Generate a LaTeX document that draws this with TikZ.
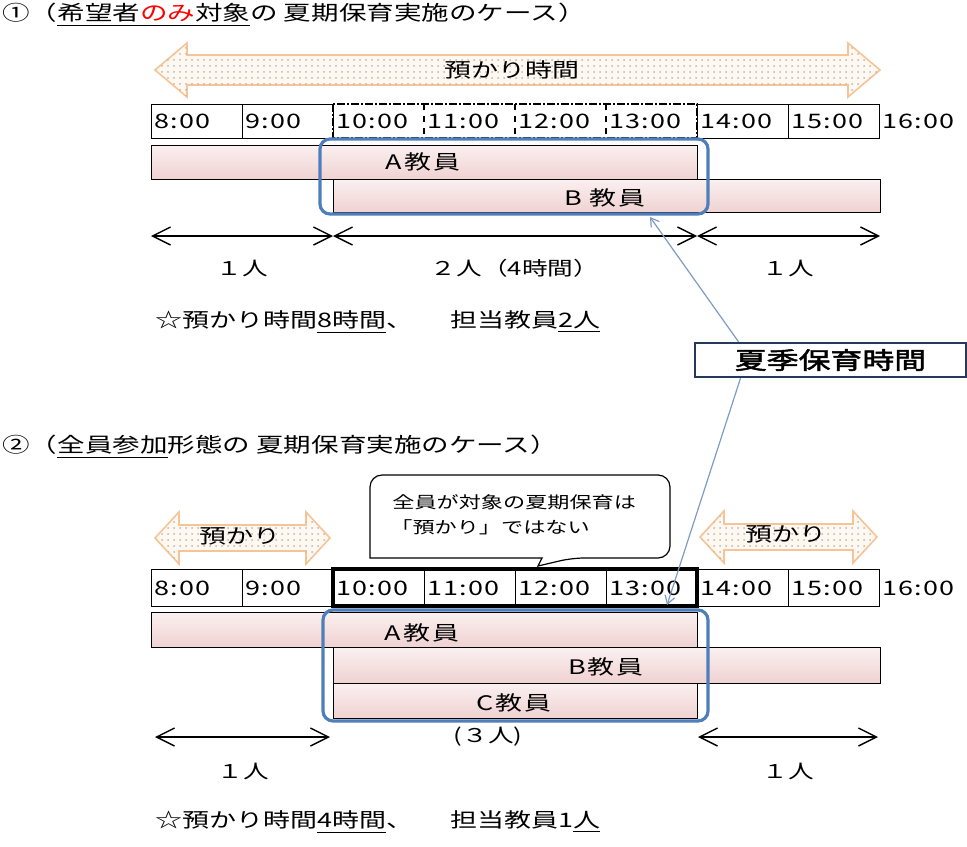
\documentclass[tikz,border=0pt]{standalone}
\usepackage{fontspec}
\setmainfont{Noto Sans CJK JP}[FakeStretch=1.35,AutoFakeBold=2]
\usetikzlibrary{arrows.meta,patterns}
\definecolor{azline}{RGB}{246,196,150}
\definecolor{azfill}{RGB}{254,248,240}
\definecolor{bartop}{RGB}{251,240,240}
\definecolor{barbot}{RGB}{240,210,210}
\definecolor{kblue}{RGB}{79,126,186}
\definecolor{pline}{RGB}{125,155,195}
\definecolor{kframe}{RGB}{38,56,92}
\tikzset{
    titel/.style={font=\fontsize{10.2pt}{12pt}\selectfont, anchor=west, inner sep=0pt},
    azuk/.style={draw=azline, line width=0.8pt, fill=azfill,
        postaction={pattern=dots, pattern color=gray!55}},
    aztext/.style={font=\fontsize{10pt}{12pt}\selectfont, inner sep=0pt},
    cell/.style={draw, line width=0.5pt},
    jikan/.style={font=\fontsize{10pt}{12pt}\selectfont\addfontfeature{LetterSpace=6}, anchor=west, inner sep=0pt},
    bar/.style={draw, line width=0.5pt, top color=bartop, bottom color=barbot},
    kyoin/.style={font=\fontsize{10pt}{12pt}\selectfont\addfontfeature{LetterSpace=10}, inner sep=0pt},
    waku/.style={draw=kblue, line width=1.6pt, rounded corners=5pt},
    dim/.style={line width=0.7pt, {Straight Barb[length=9pt,width=9pt]}-{Straight Barb[length=9pt,width=9pt]}},
    ninzu/.style={font=\fontsize{9.5pt}{12pt}\selectfont, inner sep=0pt},
    hoshi/.style={font=\fontsize{10pt}{12pt}\selectfont, anchor=west, inner sep=0pt},
    callt/.style={font=\fontsize{8.2pt}{10pt}\selectfont, anchor=west, inner sep=0pt},
    kakibox/.style={draw=kframe, line width=1.2pt, fill=white, minimum width=135.5pt, minimum height=17pt,
        inner sep=0pt, font=\fontsize{11.8pt}{14pt}\selectfont\bfseries},
    zeiger/.style={draw=pline, line width=0.6pt, -{Straight Barb[length=4pt,width=5pt]}}
}
\begin{document}
\begin{tikzpicture}[x=0.5pt,y=-0.5pt]
    \useasboundingbox (0,0) rectangle (967,846);
    % Titles
    \node[titel] (titel1) at (2,15) {①（\underline{希望者\textcolor{red}{のみ}対象}の 夏期保育実施のケース）};
    \node[titel] (titel2) at (2,447) {②（\underline{全員参加}形態の 夏期保育実施のケース）};
    % Azukari arrows
    \foreach \a/\b/\c/\h/\H/\L in {155/880/70/15/27/32, 155/330/538/13/26/24, 700/877/537/13/26/24}
    {
        \path[azuk] (\a,\c) -- (\a+\L,\c-\H) -- (\a+\L,\c-\h) -- (\b-\L,\c-\h) -- (\b-\L,\c-\H)
            -- (\b,\c) -- (\b-\L,\c+\H) -- (\b-\L,\c+\h) -- (\a+\L,\c+\h) -- (\a+\L,\c+\H) -- cycle;
    }
    \node[aztext] (az1) at (512,70) {預かり時間};
    \node[aztext] (az2) at (240,536) {預かり};
    \node[aztext] (az3) at (786,534) {預かり};
    % Time grid, case 1
    \foreach \t in {8,9,14,15}
        \draw[cell] (151+91*\t-728,104) rectangle ++(91,34);
    \draw[line width=1.4pt, dash pattern=on 4pt off 1pt on 1pt off 1pt] (333,104) rectangle (697,138);
    \foreach \x in {424,515,606}
        \draw[line width=0.6pt, dashed] (\x,104) -- (\x,138);
    % Time grid, case 2
    \foreach \t in {8,...,15}
        \draw[cell] (151+91*\t-728,569) rectangle ++(91,37);
    \draw[line width=2pt] (333,569) rectangle (697,606);
    % Hours
    \foreach \t in {8,...,16}
    {
        \node[jikan] (ja\t) at (154+91*\t-728,121) {\t:00};
        \node[jikan] (jb\t) at (154+91*\t-728,588) {\t:00};
    }
    % Teachers, case 1
    \path[bar] (151,145) rectangle (697,179);
    \path[bar] (333,179) rectangle (880,212);
    \node[kyoin] (ka1) at (423,162) {A教員};
    \node[kyoin] (kb1) at (605,198) {B 教員};
    \draw[waku] (320,139) rectangle (708,214);
    % Teachers, case 2
    \path[bar] (151,612) rectangle (697,647);
    \path[bar] (333,647) rectangle (880,683);
    \path[bar] (333,683) rectangle (697,718);
    \node[kyoin] (ka2) at (422,633) {A教員};
    \node[kyoin] (kb2) at (606,667) {B教員};
    \node[kyoin] (kc2) at (514,703) {C教員};
    \draw[waku] (323,610) rectangle (708,721);
    % Persons
    \draw[dim] (151,236) -- (333,236);
    \draw[dim] (333,236) -- (697,236);
    \draw[dim] (697,236) -- (880,236);
    \node[ninzu] (n11) at (242,268) {１人};
    \node[ninzu] (n12) at (515,268) {２人（4時間）};
    \node[ninzu] (n13) at (788,268) {１人};
    \draw[dim] (155,737) -- (330,737);
    \draw[dim] (698,737) -- (878,737);
    \node[ninzu] (n20) at (488,737) {(３人)};
    \node[ninzu] (n21) at (243,771) {１人};
    \node[ninzu] (n23) at (788,771) {１人};
    % Summary
    \node[hoshi] (sum1) at (155,322) {☆預かり時間\underline{8時間}、　\hspace{5pt}担当教員\underline{2人}};
    \node[hoshi] (sum2) at (155,822) {☆預かり時間\underline{4時間}、　\hspace{5pt}担当教員1\underline{人}};
    % Callout
    \draw[line width=0.6pt, fill=white] (538,566) -- (542,558) -- (370,558) [rounded corners=6pt]
        -- (370,475) -- (670,475) -- (670,558) -- (572,558) [sharp corners] -- cycle;
    \node[callt] (cl1) at (392,502) {全員が対象の夏期保育は};
    \node[callt] (cl2) at (390,527) {「預かり」ではない};
    % Summer care label
    \node[kakibox] (kaki) at (830.5,360) {夏季保育時間};
    \coordinate (ziel1) at (650,217);
    \coordinate (ziel2) at (667,605);
    \draw[zeiger] ([xshift=-46pt]kaki.north) -- (ziel1);
    \draw[zeiger] ([xshift=-45pt]kaki.south) -- (ziel2);
\end{tikzpicture}
\end{document}
